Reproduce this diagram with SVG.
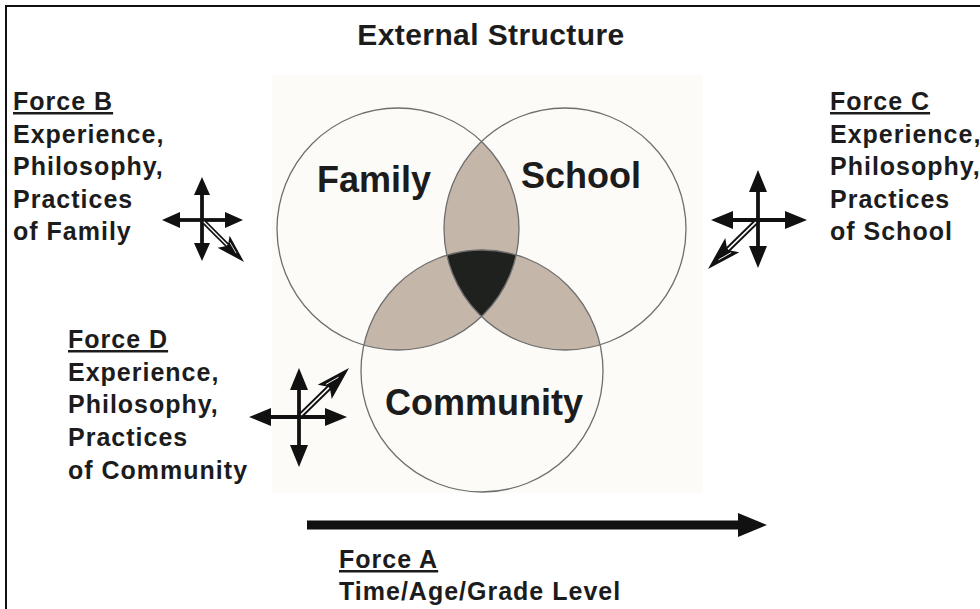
<svg xmlns="http://www.w3.org/2000/svg" width="980" height="609" viewBox="0 0 980 609">
<style>
  text { font-family: "Liberation Sans", Arial, sans-serif; font-weight: bold; fill: #1c1c1c; }
  .title { font-size: 30px; letter-spacing: 0.4px; }
  .venn { font-size: 36px; text-anchor: middle; }
  .force { font-size: 25px; letter-spacing: 1px; }
  .circle { fill: none; stroke: #6e6e6e; stroke-width: 1.3; }
  .lens { fill: #c5b6aa; }
  .core { fill: #1f211f; }
  .shaft { stroke: #111; stroke-width: 3.8; fill: none; }
</style>
<defs>
  <marker id="hs" viewBox="0 0 18 16" refX="8" refY="8" markerWidth="18" markerHeight="16" markerUnits="userSpaceOnUse" orient="auto">
    <path d="M0,0 L18,8 L0,16 Z" fill="#111"/>
  </marker>
  <marker id="hl" viewBox="0 0 22 18" refX="10" refY="9" markerWidth="22" markerHeight="18" markerUnits="userSpaceOnUse" orient="auto">
    <path d="M0,0 L22,9 L0,18 Z" fill="#111"/>
  </marker>
  <g id="dart">
    <line x1="0" y1="0" x2="44" y2="0" stroke="#111" stroke-width="5.5"/>
    <line x1="3" y1="0" x2="42" y2="0" stroke="#fff" stroke-width="1.5"/>
    <path d="M36,-10 L70,0 L36,10 L43,0 Z" fill="#111"/>
    <path d="M42,-4.5 L56,-0.8" fill="none" stroke="#fff" stroke-width="0.9"/>
  </g>
</defs>

<rect x="0" y="0" width="980" height="609" fill="#ffffff"/>
<rect id="frame" x="6" y="6" width="990" height="620" fill="none" stroke="#111" stroke-width="2"/>

<g id="title">
  <text class="title" x="491" y="45" text-anchor="middle">External Structure</text>
</g>

<g id="venn">
  <rect x="272" y="75" width="431" height="418" fill="#fcfbf7"/>
  <path class="lens" d="M481.5,141.4 A121,121 0 0 1 516.2,254.9 A121,121 0 0 0 446.9,255.2 A121,121 0 0 1 481.5,141.4 Z"/>
  <path class="lens" d="M363.8,345.1 A121,121 0 0 1 446.9,255.2 A121,121 0 0 0 481.5,316.6 A121,121 0 0 1 363.8,345.1 Z"/>
  <path class="lens" d="M516.2,254.9 A121,121 0 0 1 600.1,344.8 A121,121 0 0 1 481.5,316.6 A121,121 0 0 0 516.2,254.9 Z"/>
  <path class="core" d="M446.9,255.2 A121,121 0 0 1 516.2,254.9 A121,121 0 0 1 481.5,316.6 A121,121 0 0 1 446.9,255.2 Z"/>
  <g id="family">
    <circle class="circle" cx="398" cy="229" r="121"/>
    <text class="venn" x="374" y="192">Family</text>
  </g>
  <g id="school">
    <circle class="circle" cx="565" cy="229" r="121"/>
    <text class="venn" x="581" y="188">School</text>
  </g>
  <g id="community">
    <circle class="circle" cx="482" cy="371" r="121"/>
    <text class="venn" x="484" y="415">Community</text>
  </g>
</g>

<g id="connectors">
  <g id="compass-b">
    <line class="shaft" x1="202" y1="220" x2="202" y2="187" marker-end="url(#hs)"/>
    <line class="shaft" x1="202" y1="220" x2="202" y2="251" marker-end="url(#hs)"/>
    <line class="shaft" x1="202" y1="220" x2="172" y2="220" marker-end="url(#hs)"/>
    <line class="shaft" x1="202" y1="220" x2="233" y2="220" marker-end="url(#hs)"/>
    <use href="#dart" transform="translate(202,220) rotate(45) scale(0.85)"/>
  </g>
  <g id="compass-c">
    <line class="shaft" x1="758" y1="220" x2="758" y2="182" marker-end="url(#hl)"/>
    <line class="shaft" x1="758" y1="220" x2="758" y2="256" marker-end="url(#hl)"/>
    <line class="shaft" x1="758" y1="220" x2="723" y2="220" marker-end="url(#hl)"/>
    <line class="shaft" x1="758" y1="220" x2="795" y2="220" marker-end="url(#hl)"/>
    <use href="#dart" transform="translate(758,220) rotate(135.6)"/>
  </g>
  <g id="compass-d">
    <line class="shaft" x1="299" y1="417" x2="299" y2="380" marker-end="url(#hl)"/>
    <line class="shaft" x1="299" y1="417" x2="299" y2="455" marker-end="url(#hl)"/>
    <line class="shaft" x1="299" y1="417" x2="261" y2="417" marker-end="url(#hl)"/>
    <line class="shaft" x1="299" y1="417" x2="335" y2="417" marker-end="url(#hl)"/>
    <use href="#dart" transform="translate(299,417) rotate(-44.4)"/>
  </g>
  <g id="arrow-a">
    <line x1="307" y1="525" x2="740" y2="525" stroke="#111" stroke-width="9"/>
    <path d="M738,513 L767,525 L738,537 Z" fill="#111"/>
  </g>
</g>

<g id="force-b">
  <text class="force" x="13" y="110"><tspan text-decoration="underline">Force B</tspan></text>
  <text class="force" x="13" y="143">Experience,</text>
  <text class="force" x="13" y="175">Philosophy,</text>
  <text class="force" x="13" y="208">Practices</text>
  <text class="force" x="13" y="240">of Family</text>
</g>

<g id="force-c">
  <text class="force" x="830" y="110"><tspan text-decoration="underline">Force C</tspan></text>
  <text class="force" x="830" y="143">Experience,</text>
  <text class="force" x="830" y="175">Philosophy,</text>
  <text class="force" x="830" y="208">Practices</text>
  <text class="force" x="830" y="240">of School</text>
</g>

<g id="force-d">
  <text class="force" x="68" y="348"><tspan text-decoration="underline">Force D</tspan></text>
  <text class="force" x="68" y="381">Experience,</text>
  <text class="force" x="68" y="413">Philosophy,</text>
  <text class="force" x="68" y="446">Practices</text>
  <text class="force" x="68" y="479">of Community</text>
</g>

<g id="force-a">
  <text class="force" x="339" y="568"><tspan text-decoration="underline">Force A</tspan></text>
  <text class="force" x="339" y="600">Time/Age/Grade Level</text>
</g>
</svg>
